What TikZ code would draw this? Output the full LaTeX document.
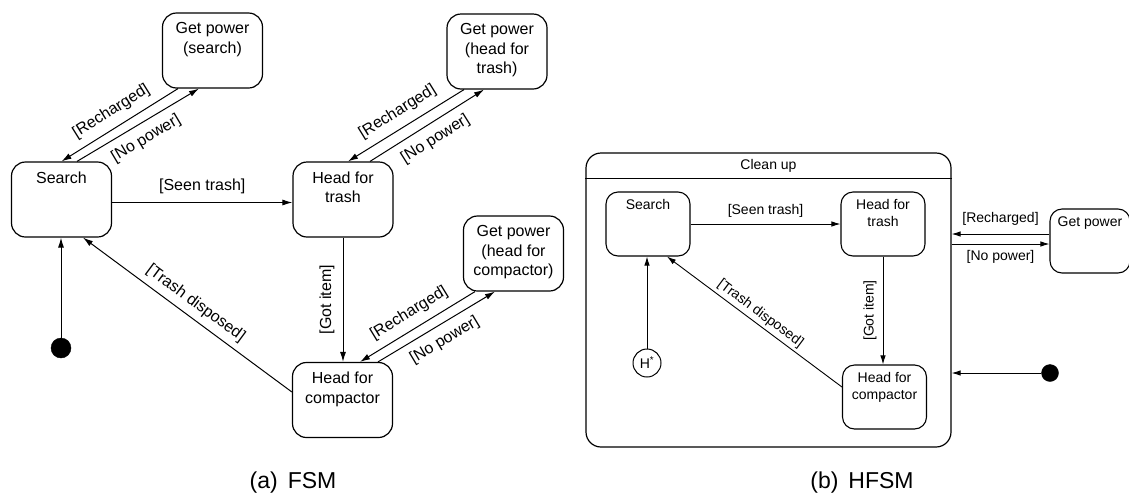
\documentclass[tikz,border=0pt]{standalone}
\usepackage{fontspec}
\setmainfont{Liberation Sans}
\usetikzlibrary{arrows.meta}
\newcommand\fsA{\fontsize{16}{19.5}\selectfont}
\newcommand\fsB{\fontsize{14}{17}\selectfont}
\newcommand\fsC{\fontsize{23}{27}\selectfont}
\begin{document}
\begin{tikzpicture}[x=1pt,y=-1pt,
  titleA/.style={anchor=north, align=center, inner sep=0pt, yshift=-10pt, font=\fsA},
  titleB/.style={anchor=north, align=center, inner sep=0pt, yshift=-8pt, font=\fsB},
  stateA/.style={draw, line width=1.2pt, rounded corners=14pt, minimum width=100pt,
    minimum height=75pt, inner sep=0pt, label={[titleA]north:#1}},
  stateB/.style={draw, line width=1.1pt, rounded corners=12pt, minimum width=84pt,
    minimum height=64pt, inner sep=0pt, label={[titleB]north:#1}},
  trans/.style={line width=1pt, -{Latex[length=10pt,width=6pt]}},
  transB/.style={line width=0.9pt, -{Latex[length=9pt,width=5.5pt]}},
  lblA/.style={font=\fsA, inner sep=8pt},
  lblB/.style={font=\fsB, inner sep=6pt},
  initial/.style={circle, fill=black, draw=black, inner sep=0pt},
]
\useasboundingbox (0,0) rectangle (1129,496);

% ---------- (a) flat state machine ----------
\node[stateA={Get power\\(search)}] (gps) at (212.5,50.5) {};
\node[stateA=Search] (srch) at (61.5,199.5) {};
\node[stateA={Head for\\trash}] (hft) at (343,199.5) {};
\node[stateA={Get power\\(head for\\trash)}] (gpt) at (497,51.5) {};
\node[stateA={Head for\\compactor}] (hfc) at (342.5,400) {};
\node[stateA={Get power\\(head for\\compactor)}] (gpc) at (513.5,253.5) {};
\node[initial, minimum size=20pt] (ia) at (61,348) {};

\draw[trans] ([xshift=-34.5pt]gps.south) -- node[lblA, sloped, above]{[Recharged]} (srch.north);
\draw[trans] ([xshift=15.5pt]srch.north) -- node[lblA, sloped, below]{[No power]} ([xshift=-13.5pt]gps.south);

\draw[trans] ([xshift=-33pt]gpt.south) -- node[lblA, sloped, above]{[Recharged]} ([xshift=5pt]hft.north);
\draw[trans] ([xshift=27pt]hft.north) -- node[lblA, sloped, below]{[No power]} ([xshift=-13pt]gpt.south);

\draw[trans] ([xshift=-38.5pt]gpc.south) -- node[lblA, sloped, above]{[Recharged]} ([xshift=17.5pt]hfc.north);
\draw[trans] ([xshift=35.5pt]hfc.north) -- node[lblA, sloped, below]{[No power]} ([xshift=-18.5pt]gpc.south);

\draw[trans] ([yshift=-3pt]srch.east) -- node[lblA, above]{[Seen trash]} ([yshift=-3pt]hft.west);
\draw[trans] (hft.south) -- node[lblA, rotate=90, above]{[Got item]} (hft.south |- hfc.north);
\draw[trans] ([yshift=8pt]hfc.west) -- node[lblA, sloped, above, inner sep=6pt]{[Trash disposed]} ([xshift=21.5pt]srch.south);
\draw[trans] (ia) -- (ia |- srch.south);

\node[font=\fsC] (capa) at (293,483) {(a)\hspace{10pt}FSM};

% ---------- (b) hierarchical state machine ----------
\node[draw, line width=1.2pt, rounded corners=15pt, minimum width=365pt,
  minimum height=294pt, inner sep=0pt] (cu) at (768.5,300) {};
\node[font=\fsB] (cut) at (768.5,166) {Clean up};
\draw[line width=1.1pt] ([yshift=-26pt]cu.north west) -- ([yshift=-26pt]cu.north east);

\node[stateB=Search] (sb) at (648,224) {};
\node[stateB={Head for\\trash}] (hftb) at (883,224) {};
\node[stateB={Head for\\compactor}] (hfcb) at (884.5,397) {};
\node[stateB={Get power}, minimum width=80pt] (gpb) at (1090,241) {};
\node[draw, circle, line width=1pt, minimum size=28pt, inner sep=0pt, font=\fsB] (hs) at (647,363) {H\textsuperscript{*}};
\node[initial, minimum size=17pt] (ib) at (1050,373) {};

\draw[transB] (sb.east) -- node[lblB, above]{[Seen trash]} (hftb.west);
\draw[transB] (hftb.south) -- node[lblB, rotate=90, above]{[Got item]} (hftb.south |- hfcb.north);
\draw[transB] ([yshift=10pt]hfcb.west) -- node[lblB, sloped, above, inner sep=3pt]{[Trash disposed]} ([xshift=19pt]sb.south);
\draw[transB] (hs) -- (hs |- sb.south);

\coordinate (rin) at ([yshift=7pt]gpb.west);
\coordinate (rout) at ([yshift=-3pt]gpb.west);
\draw[transB] (rin) -- node[lblB, above, inner sep=8pt]{[Recharged]} (rin -| cu.east);
\draw[transB] (rout -| cu.east) -- node[lblB, below]{[No power]} (rout);
\draw[transB] (ib) -- (ib -| cu.east);

\node[font=\fsC] (capb) at (862,483) {(b)\hspace{10pt}HFSM};
\end{tikzpicture}
\end{document}
